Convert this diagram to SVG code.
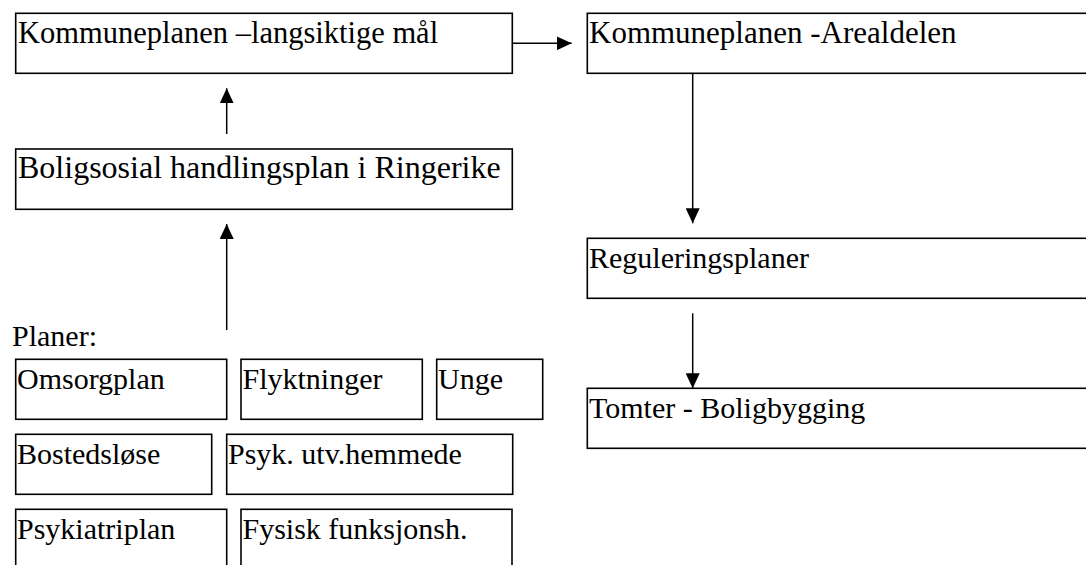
<svg xmlns="http://www.w3.org/2000/svg" width="1086" height="565" viewBox="0 0 1086 565">
<style>
.box{fill:#fff;stroke:#000;stroke-width:1.6}
.t{font-family:"Liberation Serif","Times New Roman",serif;font-size:30px;fill:#000}
.big{font-size:31px}
.c{stroke:#000;stroke-width:1.5;fill:none}
</style>
<defs>
<marker id="ah" viewBox="0 0 15 14" refX="15" refY="7" markerWidth="15" markerHeight="14" markerUnits="userSpaceOnUse" orient="auto">
<path d="M0,0 L15,7 L0,14 Z" fill="#000"/>
</marker>
</defs>
<rect width="1086" height="565" fill="#fff"/>
<g id="n-kommuneplan"><rect class="box" x="15.7" y="13.3" width="496.6" height="60"/><text class="t" style="font-size:30.5px" x="18" y="43">Kommuneplanen –langsiktige mål</text></g>
<g id="n-arealdel"><rect class="box" x="587.3" y="13.3" width="510" height="60"/><text class="t big" x="589" y="43">Kommuneplanen -Arealdelen</text></g>
<g id="n-boligsosial"><rect class="box" x="15.7" y="149" width="496.6" height="60.3"/><text class="t" style="font-size:32px" x="18" y="178">Boligsosial handlingsplan i Ringerike</text></g>
<g id="n-regulering"><rect class="box" x="587.3" y="238.3" width="510" height="60"/><text class="t" x="589" y="268">Reguleringsplaner</text></g>
<g id="n-tomter"><rect class="box" x="587.3" y="388.3" width="510" height="60"/><text class="t" x="589" y="418">Tomter - Boligbygging</text></g>
<g id="n-planer"><text class="t" x="12" y="346">Planer:</text></g>
<g id="n-omsorg"><rect class="box" x="15.7" y="359.3" width="211" height="60"/><text class="t" x="17" y="389">Omsorgplan</text></g>
<g id="n-flykt"><rect class="box" x="241" y="359.3" width="181.3" height="60"/><text class="t" x="242.5" y="389">Flyktninger</text></g>
<g id="n-unge"><rect class="box" x="436.7" y="359.3" width="106" height="60"/><text class="t" x="438" y="389">Unge</text></g>
<g id="n-bosted"><rect class="box" x="15.7" y="434.3" width="196" height="60"/><text class="t" x="17" y="464">Bostedsløse</text></g>
<g id="n-psyk"><rect class="box" x="226.7" y="434.3" width="286" height="60"/><text class="t" x="228" y="464">Psyk. utv.hemmede</text></g>
<g id="n-psykiatri"><rect class="box" x="15.7" y="509.3" width="211" height="70"/><text class="t" x="17" y="539">Psykiatriplan</text></g>
<g id="n-fysisk"><rect class="box" x="241" y="509.3" width="271" height="70"/><text class="t" x="242.5" y="539">Fysisk funksjonsh.</text></g>
<g id="connectors">
<line class="c" x1="512.3" y1="43.3" x2="571.7" y2="43.3" marker-end="url(#ah)"/>
<line class="c" x1="226.7" y1="134" x2="226.7" y2="88.3" marker-end="url(#ah)"/>
<line class="c" x1="226.7" y1="330" x2="226.7" y2="224" marker-end="url(#ah)"/>
<line class="c" x1="692.7" y1="73.3" x2="692.7" y2="223.3" marker-end="url(#ah)"/>
<line class="c" x1="692.7" y1="313.3" x2="692.7" y2="388.3" marker-end="url(#ah)"/>
</g>
</svg>
